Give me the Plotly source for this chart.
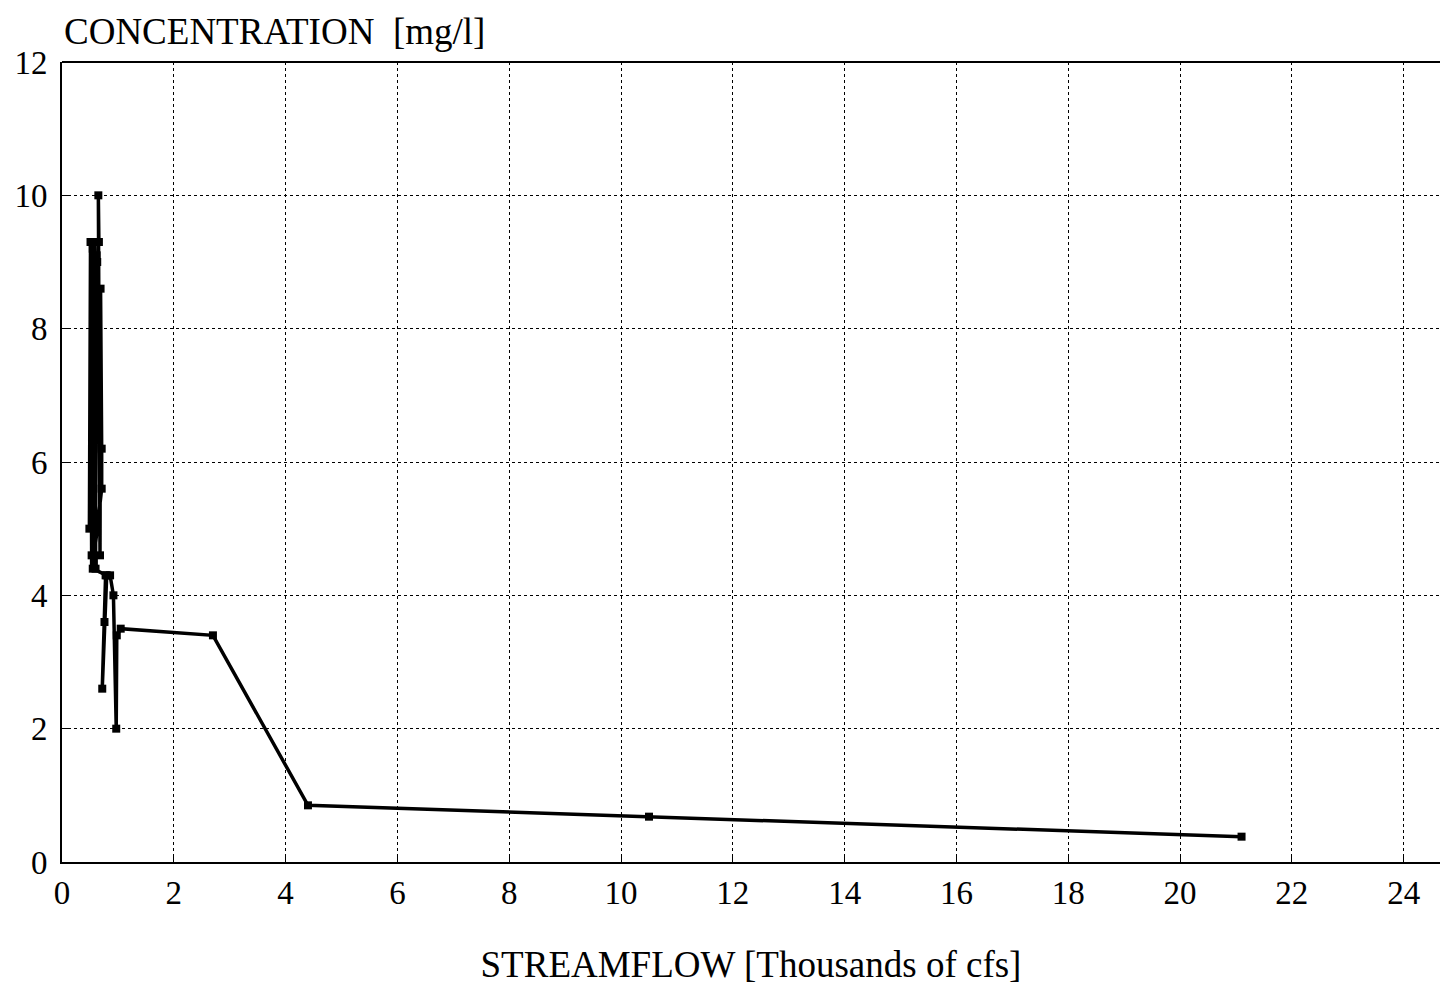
import plotly.graph_objects as go

# Streamflow (thousands of cfs) and concentration (mg/l), in path order
streamflow = [0.49, 0.51, 0.53, 0.55, 0.57, 0.58, 0.60, 0.62, 0.63, 0.66, 0.65,
              0.68, 0.69, 0.71, 0.71, 0.55, 0.80, 0.72, 0.76, 0.78, 0.86, 0.92,
              0.97, 0.98, 1.05, 2.7, 4.4, 10.5, 21.1]
concentration = [5.0, 9.3, 4.6, 9.2, 4.5, 9.3, 4.4, 9.1, 9.0, 9.3, 10.0,
                 4.6, 8.6, 6.2, 5.6, 4.4, 4.3, 2.6, 3.6, 4.3, 4.3, 4.0,
                 2.0, 3.4, 3.5, 3.4, 0.85, 0.68, 0.38]

x_ticks = list(range(0, 25, 2))
y_ticks = list(range(0, 13, 2))

FONT = "Liberation Serif"

fig = go.Figure()
fig.add_trace(go.Scatter(
    x=streamflow, y=concentration, mode="lines+markers",
    line=dict(color="black", width=3.5),
    marker=dict(symbol="square", size=8, color="black"),
    showlegend=False,
))

axis_common = dict(
    showline=True, linecolor="black", linewidth=2,
    showgrid=True, gridcolor="black", gridwidth=1, griddash="dot",
    ticks="inside", ticklen=8, tickcolor="black", tickwidth=1,
    zeroline=False,
    tickfont=dict(family=FONT, size=33, color="black"),
)

fig.update_layout(
    width=1440, height=990,
    margin=dict(l=62, r=0, t=62, b=128),
    paper_bgcolor="white", plot_bgcolor="white",
    font=dict(family=FONT, color="black"),
    xaxis=dict(range=[0, 24.65], tickvals=x_ticks, ticktext=[str(v) for v in x_ticks],
               title=dict(text="STREAMFLOW [Thousands of cfs]", font=dict(family=FONT, size=37), standoff=42),
               mirror=False, **axis_common),
    yaxis=dict(range=[0, 12], tickvals=y_ticks, ticktext=[str(v) for v in y_ticks],
               ticklabelstandoff=6, **axis_common),
    shapes=[dict(type="line", xref="paper", yref="paper", x0=0, x1=1, y0=1, y1=1,
                 line=dict(color="black", width=2))],
    annotations=[dict(text="CONCENTRATION  [mg/l]", xref="paper", yref="paper",
                      x=0, y=1, xanchor="left", yanchor="bottom", yshift=8, showarrow=False,
                      font=dict(family=FONT, size=37, color="black"))],
)

fig.write_html("out.html")
